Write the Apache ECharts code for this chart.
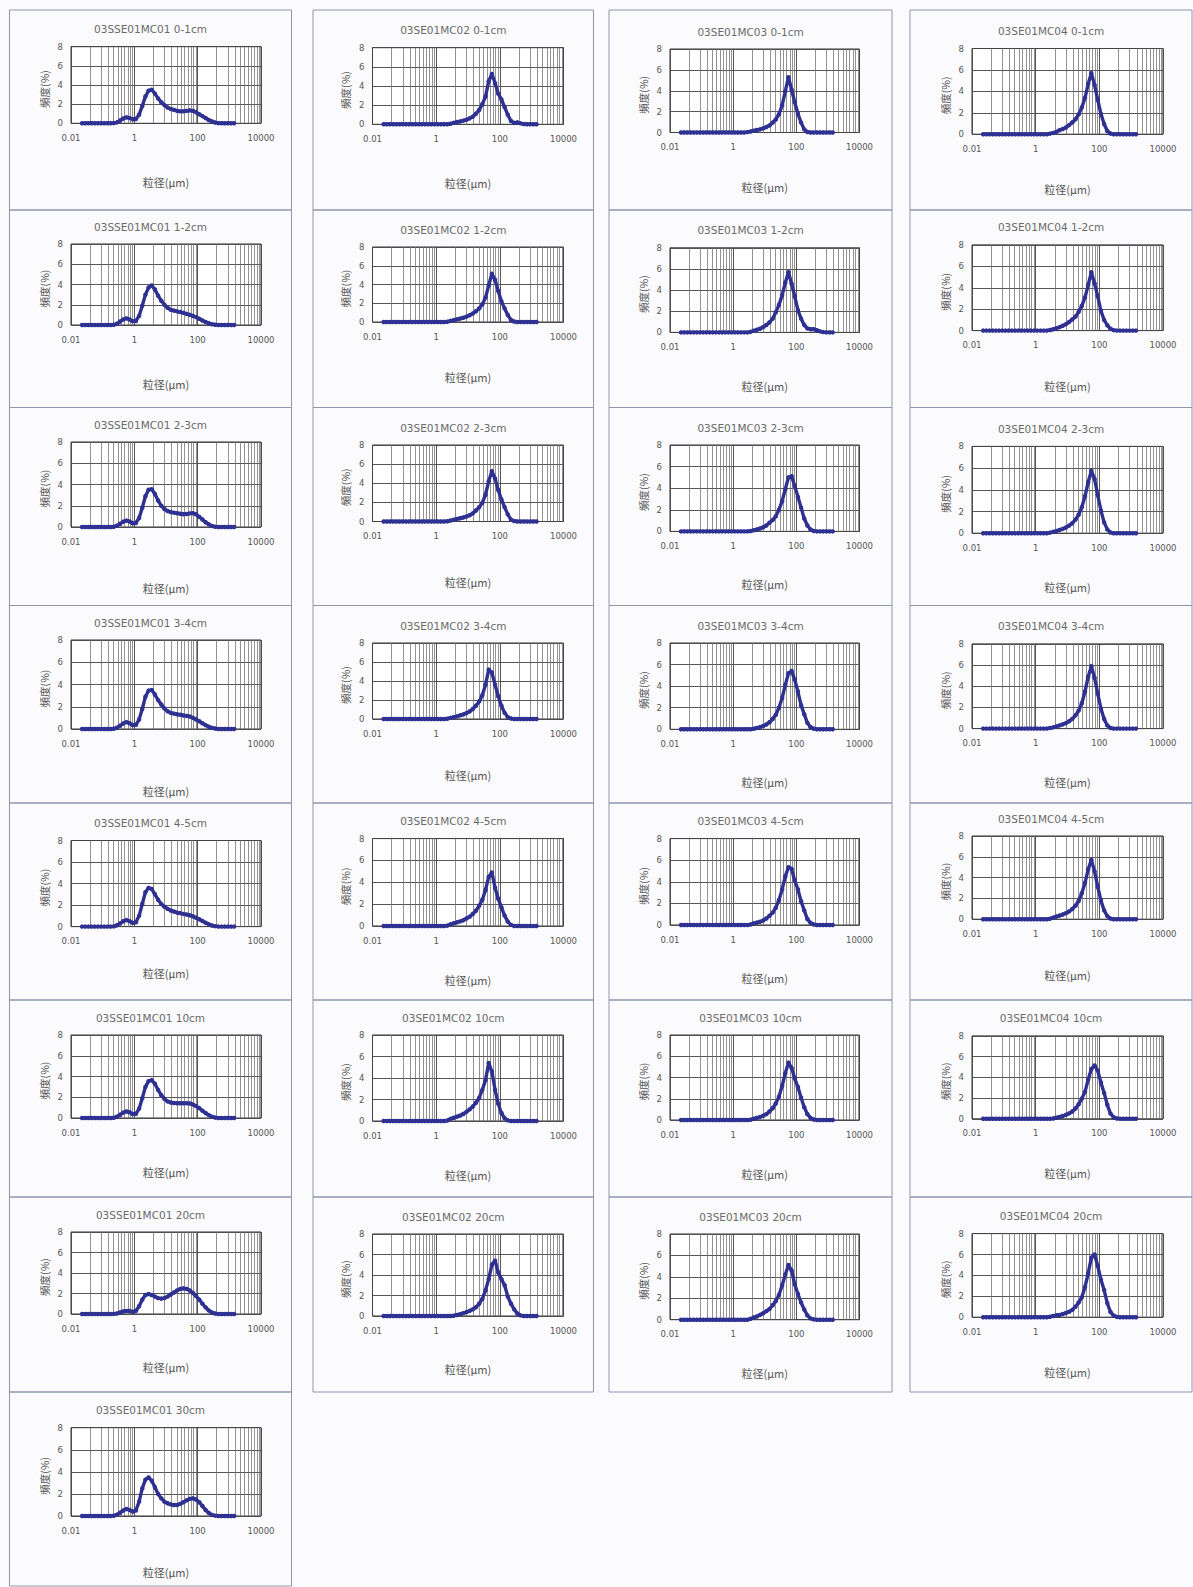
<!DOCTYPE html>
<html><head><meta charset="utf-8">
<script src="https://cdn.jsdelivr.net/npm/echarts@6/dist/echarts.min.js"></script>
<style>html,body{margin:0;padding:0;background:#fbfbfd;}#c{width:1193px;height:1587px;}</style>
</head><body><div id="c"></div>
<script>
// ---- bin sizes (um), 0.1-decade bins ----
const sizes = [0.02239,0.02818,0.03548,0.04467,0.05623,0.07079,0.08913,0.1122,0.1413,0.1778,
0.2239,0.2818,0.3548,0.4467,0.5623,0.7079,0.8913,1.122,1.413,1.778,
2.239,2.818,3.548,4.467,5.623,7.079,8.913,11.22,14.13,17.78,
22.39,28.18,35.48,44.67,56.23,70.79,89.13,112.2,141.3,177.8,
223.9,281.8,354.8,446.7,562.3,707.9,891.3,1122,1413];

const xTicks = [0.01, 1, 100, 10000];
const yTicks = [0, 2, 4, 6, 8];

const cores = ['03SSE01MC01','03SE01MC02','03SE01MC03','03SE01MC04'];
const depthsMC01 = ['0-1cm','1-2cm','2-3cm','3-4cm','4-5cm','10cm','20cm','30cm'];
const depthsOther = ['0-1cm','1-2cm','2-3cm','3-4cm','4-5cm','10cm','20cm'];

// ---- frequency (%) ----
const m1_01 = [0,0,0,0,0,0,0,0,0,0, 0.02,0.1,0.3,0.5,0.62,0.55,0.42,0.45,0.9,1.8, 2.8,3.4,3.5,3.1,2.6,2.2,1.9,1.65,1.5,1.4, 1.3,1.25,1.25,1.3,1.35,1.3,1.15,0.95,0.75,0.55, 0.35,0.2,0.08,0.02,0,0,0,0,0];
const m1_12 = [0,0,0,0,0,0,0,0,0,0, 0.02,0.12,0.35,0.55,0.65,0.55,0.38,0.4,0.9,1.9, 3.0,3.7,3.9,3.5,2.9,2.4,2.0,1.7,1.5,1.42, 1.35,1.28,1.2,1.1,1.0,0.9,0.78,0.62,0.45,0.3, 0.18,0.08,0.03,0,0,0,0,0,0];
const m1_23 = [0,0,0,0,0,0,0,0,0,0, 0.02,0.12,0.3,0.5,0.6,0.52,0.35,0.38,0.85,1.8, 2.9,3.5,3.55,3.1,2.5,2.0,1.7,1.5,1.4,1.35, 1.3,1.25,1.2,1.22,1.28,1.3,1.2,0.95,0.7,0.45, 0.25,0.1,0.03,0,0,0,0,0,0];
const m1_34 = [0,0,0,0,0,0,0,0,0,0, 0.02,0.12,0.3,0.5,0.62,0.52,0.35,0.38,0.85,1.8, 2.9,3.45,3.5,3.1,2.6,2.2,1.85,1.6,1.45,1.38, 1.32,1.28,1.22,1.18,1.12,1.0,0.85,0.7,0.52,0.35, 0.2,0.1,0.04,0,0,0,0,0,0];
const m1_45 = [0,0,0,0,0,0,0,0,0,0, 0.02,0.12,0.3,0.5,0.6,0.5,0.35,0.4,1.0,2.1, 3.2,3.6,3.5,3.0,2.5,2.1,1.85,1.65,1.5,1.4, 1.3,1.25,1.18,1.12,1.05,0.95,0.82,0.68,0.52,0.36, 0.22,0.1,0.04,0,0,0,0,0,0];
const m1_10 = [0,0,0,0,0,0,0,0,0,0, 0.02,0.12,0.32,0.52,0.63,0.55,0.38,0.4,0.9,1.9, 3.0,3.55,3.65,3.3,2.7,2.2,1.85,1.6,1.5,1.45, 1.42,1.42,1.42,1.42,1.4,1.3,1.15,0.95,0.7,0.48, 0.28,0.12,0.04,0,0,0,0,0,0];
const m1_20 = [0,0,0,0,0,0,0,0,0,0, 0.01,0.05,0.15,0.25,0.3,0.28,0.22,0.3,0.75,1.4, 1.85,1.95,1.85,1.7,1.55,1.5,1.55,1.7,1.9,2.1, 2.3,2.45,2.5,2.45,2.3,2.05,1.75,1.4,1.0,0.65, 0.35,0.15,0.05,0,0,0,0,0,0];
const m1_30 = [0,0,0,0,0,0,0,0,0,0, 0.02,0.12,0.3,0.5,0.63,0.55,0.4,0.5,1.3,2.5, 3.3,3.5,3.2,2.6,2.0,1.6,1.3,1.15,1.05,1.0, 1.0,1.1,1.25,1.42,1.55,1.6,1.5,1.25,0.9,0.55, 0.28,0.1,0.03,0,0,0,0,0,0];

const m2_01 = [0,0,0,0,0,0,0,0,0,0, 0,0,0,0,0,0,0,0,0,0, 0,0.06,0.15,0.24,0.3,0.38,0.48,0.62,0.8,1.1, 1.5,2.1,2.9,4.5,5.25,4.3,3.2,2.6,1.8,1.0, 0.35,0.15,0.2,0.1,0.03,0,0,0,0];
const m2_12 = [0,0,0,0,0,0,0,0,0,0, 0,0,0,0,0,0,0,0,0,0, 0.03,0.12,0.2,0.28,0.36,0.45,0.57,0.72,0.9,1.15, 1.45,1.9,2.6,3.9,5.15,4.5,3.3,2.2,1.45,0.75, 0.22,0.05,0,0,0,0,0,0,0];
const m2_23 = [0,0,0,0,0,0,0,0,0,0, 0,0,0,0,0,0,0,0,0,0, 0.03,0.1,0.18,0.26,0.34,0.42,0.52,0.65,0.85,1.15, 1.5,1.95,2.8,4.2,5.25,4.5,3.3,2.3,1.5,0.75, 0.2,0.05,0,0,0,0,0,0,0];
const m2_34 = [0,0,0,0,0,0,0,0,0,0, 0,0,0,0,0,0,0,0,0,0, 0.03,0.12,0.2,0.28,0.38,0.48,0.62,0.8,1.05,1.4, 1.85,2.5,3.6,5.2,4.9,3.6,2.4,1.4,0.65,0.2, 0.05,0,0,0,0,0,0,0,0];
const m2_45 = [0,0,0,0,0,0,0,0,0,0, 0,0,0,0,0,0,0,0,0,0, 0.03,0.15,0.25,0.33,0.42,0.52,0.68,0.85,1.1,1.4, 1.85,2.4,3.3,4.5,4.9,3.5,2.5,1.7,0.95,0.4, 0.1,0,0,0,0,0,0,0,0];
const m2_10 = [0,0,0,0,0,0,0,0,0,0, 0,0,0,0,0,0,0,0,0,0, 0.05,0.2,0.3,0.4,0.5,0.65,0.85,1.08,1.35,1.7, 2.15,2.9,3.8,5.4,4.6,2.9,1.6,0.75,0.25,0.06, 0,0,0,0,0,0,0,0,0];
const m2_20 = [0,0,0,0,0,0,0,0,0,0, 0,0,0,0,0,0,0,0,0,0, 0,0,0.03,0.1,0.18,0.27,0.38,0.5,0.65,0.85, 1.2,1.67,2.5,3.6,5.0,5.4,4.25,3.6,3.0,1.9, 1.2,0.65,0.25,0.06,0,0,0,0,0];

const m3_01 = [0,0,0,0,0,0,0,0,0,0, 0,0,0,0,0,0,0,0,0,0, 0,0.04,0.1,0.17,0.24,0.3,0.4,0.52,0.68,0.95, 1.25,1.75,2.6,3.95,5.3,4.1,2.9,1.8,0.95,0.3, 0.05,0,0,0,0,0,0,0,0];
const m3_12 = [0,0,0,0,0,0,0,0,0,0, 0,0,0,0,0,0,0,0,0,0, 0,0,0.05,0.15,0.25,0.35,0.5,0.7,0.95,1.3, 1.9,2.6,3.5,4.7,5.7,4.6,3.4,2.1,1.3,0.7, 0.38,0.3,0.3,0.2,0.1,0.03,0,0,0];
const m3_23 = [0,0,0,0,0,0,0,0,0,0, 0,0,0,0,0,0,0,0,0,0, 0,0,0.04,0.1,0.18,0.27,0.38,0.55,0.8,1.05, 1.4,2.0,2.8,3.9,5.0,5.1,4.2,3.2,2.2,1.2, 0.55,0.18,0.04,0,0,0,0,0,0];
const m3_34 = [0,0,0,0,0,0,0,0,0,0, 0,0,0,0,0,0,0,0,0,0, 0,0,0,0.05,0.12,0.2,0.3,0.45,0.65,0.95, 1.35,2.0,2.9,4.1,5.2,5.4,4.6,3.5,2.24,1.4, 0.6,0.2,0.06,0,0,0,0,0,0];
const m3_45 = [0,0,0,0,0,0,0,0,0,0, 0,0,0,0,0,0,0,0,0,0, 0,0,0.05,0.15,0.22,0.3,0.42,0.6,0.85,1.15, 1.6,2.3,3.3,4.5,5.35,5.2,4.1,3.3,2.2,1.35, 0.55,0.2,0.04,0,0,0,0,0,0];
const m3_10 = [0,0,0,0,0,0,0,0,0,0, 0,0,0,0,0,0,0,0,0,0, 0,0,0.03,0.12,0.2,0.28,0.4,0.55,0.8,1.1, 1.55,2.2,3.2,4.4,5.4,4.9,3.9,3.1,2.1,1.2, 0.55,0.2,0.05,0,0,0,0,0,0];
const m3_20 = [0,0,0,0,0,0,0,0,0,0, 0,0,0,0,0,0,0,0,0,0, 0,0,0.08,0.2,0.3,0.45,0.6,0.8,1.0,1.35, 1.75,2.3,3.2,4.2,5.1,4.6,3.3,2.4,1.6,0.95, 0.4,0.12,0.03,0,0,0,0,0,0];

const m4_01 = [0,0,0,0,0,0,0,0,0,0, 0,0,0,0,0,0,0,0,0,0, 0,0.05,0.12,0.22,0.38,0.48,0.62,0.85,1.1,1.4, 1.85,2.5,3.4,4.7,5.7,4.6,3.2,1.9,0.95,0.3, 0.06,0,0,0,0,0,0,0,0];
const m4_12 = [0,0,0,0,0,0,0,0,0,0, 0,0,0,0,0,0,0,0,0,0, 0,0.05,0.12,0.22,0.32,0.45,0.6,0.8,1.05,1.3, 1.75,2.3,3.1,4.25,5.45,4.4,3.2,1.85,1.0,0.5, 0.17,0.04,0,0,0,0,0,0,0];
const m4_23 = [0,0,0,0,0,0,0,0,0,0, 0,0,0,0,0,0,0,0,0,0, 0,0.05,0.12,0.2,0.3,0.4,0.52,0.7,0.92,1.25, 1.7,2.4,3.4,4.7,5.75,5.0,3.5,2.1,1.0,0.35, 0.07,0,0,0,0,0,0,0,0];
const m4_34 = [0,0,0,0,0,0,0,0,0,0, 0,0,0,0,0,0,0,0,0,0, 0,0.05,0.12,0.2,0.3,0.4,0.52,0.7,0.92,1.25, 1.7,2.4,3.5,4.9,5.9,4.8,3.3,1.9,0.9,0.3, 0.06,0,0,0,0,0,0,0,0];
const m4_45 = [0,0,0,0,0,0,0,0,0,0, 0,0,0,0,0,0,0,0,0,0, 0,0.05,0.15,0.25,0.35,0.45,0.58,0.75,0.98,1.3, 1.75,2.5,3.5,4.8,5.7,4.6,3.1,1.8,0.85,0.3, 0.06,0,0,0,0,0,0,0,0];
const m4_10 = [0,0,0,0,0,0,0,0,0,0, 0,0,0,0,0,0,0,0,0,0, 0,0,0.03,0.1,0.18,0.27,0.38,0.52,0.7,1.0, 1.4,1.95,2.6,3.8,4.8,5.15,4.65,3.5,2.5,1.35, 0.5,0.15,0.03,0,0,0,0,0,0];
const m4_20 = [0,0,0,0,0,0,0,0,0,0, 0,0,0,0,0,0,0,0,0,0, 0,0.05,0.12,0.18,0.22,0.3,0.4,0.52,0.7,1.0, 1.4,1.9,2.9,4.2,5.7,6.0,4.9,3.6,2.6,1.35, 0.5,0.15,0.03,0,0,0,0,0,0];

const MC01 = [m1_01,m1_12,m1_23,m1_34,m1_45,m1_10,m1_20,m1_30];
const MC02 = [m2_01,m2_12,m2_23,m2_34,m2_45,m2_10,m2_20];
const MC03 = [m3_01,m3_12,m3_23,m3_34,m3_45,m3_10,m3_20];
const MC04 = [m4_01,m4_12,m4_23,m4_34,m4_45,m4_10,m4_20];

// ---- layout (pixels) ----
const colPanelX = [[9.5,291.5],[313,593.5],[609,892],[910,1192]];
const rowLines = [10,210,407.5,605.5,803,1000,1197,1392,1586];
const colPlotX = [[71,261],[372.5,563.5],[670,859.5],[972,1163]];
const plotY = [
 [[46.7,123.3],[244,325],[442,527],[640,729],[840.5,926.6],[1035,1118],[1232,1314],[1427.7,1516]],
 [[47.7,124.3],[247,322],[445,521.5],[643,719],[838.6,926],[1035,1121],[1234,1316]],
 [[49,132.5],[247.8,332.4],[445,531.4],[643,729.3],[838.6,925],[1035,1120],[1234,1319.7]],
 [[48.5,134.2],[244.9,330.6],[446.4,533.2],[643.9,728.6],[836,919.2],[1035.9,1118.8],[1233.6,1317.2]]
];
const xNameOff = [[59,59,61,62,46,54,52.5,55.7],[58.7,55,60.5,56,54,54,53],[54.5,54,53,53,53,54,53],[54.6,55.6,53.5,53.5,55.6,54,54.5]];
// minor vertical grid multipliers inside each 100x interval
const minorMult = [4,9,15,22,30,39,49,62,74,89];

const NAVY = '#2e3192';
const FONT = "'DejaVu Sans', 'Liberation Sans', sans-serif";
const CJK = "'Noto Sans CJK JP', 'Noto Sans', sans-serif";

const panels = [];
const allVals = [MC01, MC02, MC03, MC04];
for (let c = 0; c < 4; c++) {
  const depths = c === 0 ? depthsMC01 : depthsOther;
  depths.forEach((d, r) => panels.push({ col: c, row: r, title: cores[c] + ' ' + d, vals: allVals[c][r] }));
}

const minorLines = [];
xTicks.slice(0, 3).forEach(a => minorMult.forEach(m => minorLines.push(a * m)));

const grids = [], xAxes = [], yAxes = [], series = [], elements = [];
panels.forEach((p, k) => {
  const [x0, x1] = colPlotX[p.col];
  const [y0, y1] = plotY[p.col][p.row];
  const [px0, px1] = colPanelX[p.col];
  const py0 = rowLines[p.row], py1 = rowLines[p.row + 1];
  grids.push({ left: x0, top: y0, width: x1 - x0, height: y1 - y0, show: true,
    backgroundColor: '#ffffff', borderColor: '#333', borderWidth: 1, containLabel: false });
  xAxes.push({ gridIndex: k, type: 'log', logBase: 100, min: xTicks[0], max: xTicks[3],
    axisLine: { show: false }, axisTick: { show: false },
    splitLine: { show: true, lineStyle: { color: '#444', width: 0.9 } },
    axisLabel: { fontSize: 8.5, color: '#555', fontFamily: FONT, margin: 10, showMinLabel: true, showMaxLabel: true,
      formatter: v => String(+(+v).toPrecision(4)) } });
  yAxes.push({ gridIndex: k, type: 'value', min: yTicks[0], max: yTicks[4], interval: 2,
    axisLine: { show: false }, axisTick: { show: false },
    splitLine: { show: true, lineStyle: { color: '#444', width: 0.9 } },
    axisLabel: { fontSize: 8.5, color: '#555', fontFamily: FONT, margin: 8 } });
  series.push({ type: 'line', xAxisIndex: k, yAxisIndex: k,
    data: sizes.map((s, i) => [s, p.vals[i]]),
    symbol: 'circle', symbolSize: 4.5, showSymbol: true, showAllSymbol: true,
    lineStyle: { width: 3.4, color: NAVY }, itemStyle: { color: NAVY }, z: 3, silent: true, animation: false,
    markLine: { silent: true, z: 1, symbol: ['none', 'none'], label: { show: false }, animation: false,
      lineStyle: { color: '#6e6e6e', width: 0.75, type: 'solid' },
      data: minorLines.map(v => ({ xAxis: v })) } });
  // panel border
  elements.push({ type: 'rect', silent: true, z: -10,
    shape: { x: px0, y: py0, width: px1 - px0, height: py1 - py0 },
    style: { fill: 'none', stroke: '#9095ad', lineWidth: 1 } });
  // title
  elements.push({ type: 'text', silent: true, x: (px0 + px1) / 2, y: y0 - 17.5,
    style: { text: p.title, fontSize: 10.5, fontFamily: FONT, fill: '#6a6a6a',
      align: 'center', verticalAlign: 'middle', textAlign: 'center', textVerticalAlign: 'middle' } });
  // x axis name
  elements.push({ type: 'text', silent: true, x: (x0 + x1) / 2, y: y1 + xNameOff[p.col][p.row],
    style: { text: '粒径(μm)', fontSize: 11, fontFamily: CJK, fill: '#555',
      align: 'center', verticalAlign: 'middle', textAlign: 'center', textVerticalAlign: 'middle' } });
  // y axis name
  elements.push({ type: 'text', silent: true, x: x0 - 27, y: (y0 + y1) / 2 + 4, rotation: Math.PI / 2,
    style: { text: '頻度(%)', fontSize: 10.5, fontFamily: CJK, fill: '#555',
      align: 'center', verticalAlign: 'middle', textAlign: 'center', textVerticalAlign: 'middle' } });
});

const chart = echarts.init(document.getElementById('c'), null, { renderer: 'svg', width: 1193, height: 1587 });
chart.setOption({
  backgroundColor: '#fbfbfd',
  animation: false,
  grid: grids, xAxis: xAxes, yAxis: yAxes, series: series,
  graphic: { elements: elements }
});
</script>
</body></html>
